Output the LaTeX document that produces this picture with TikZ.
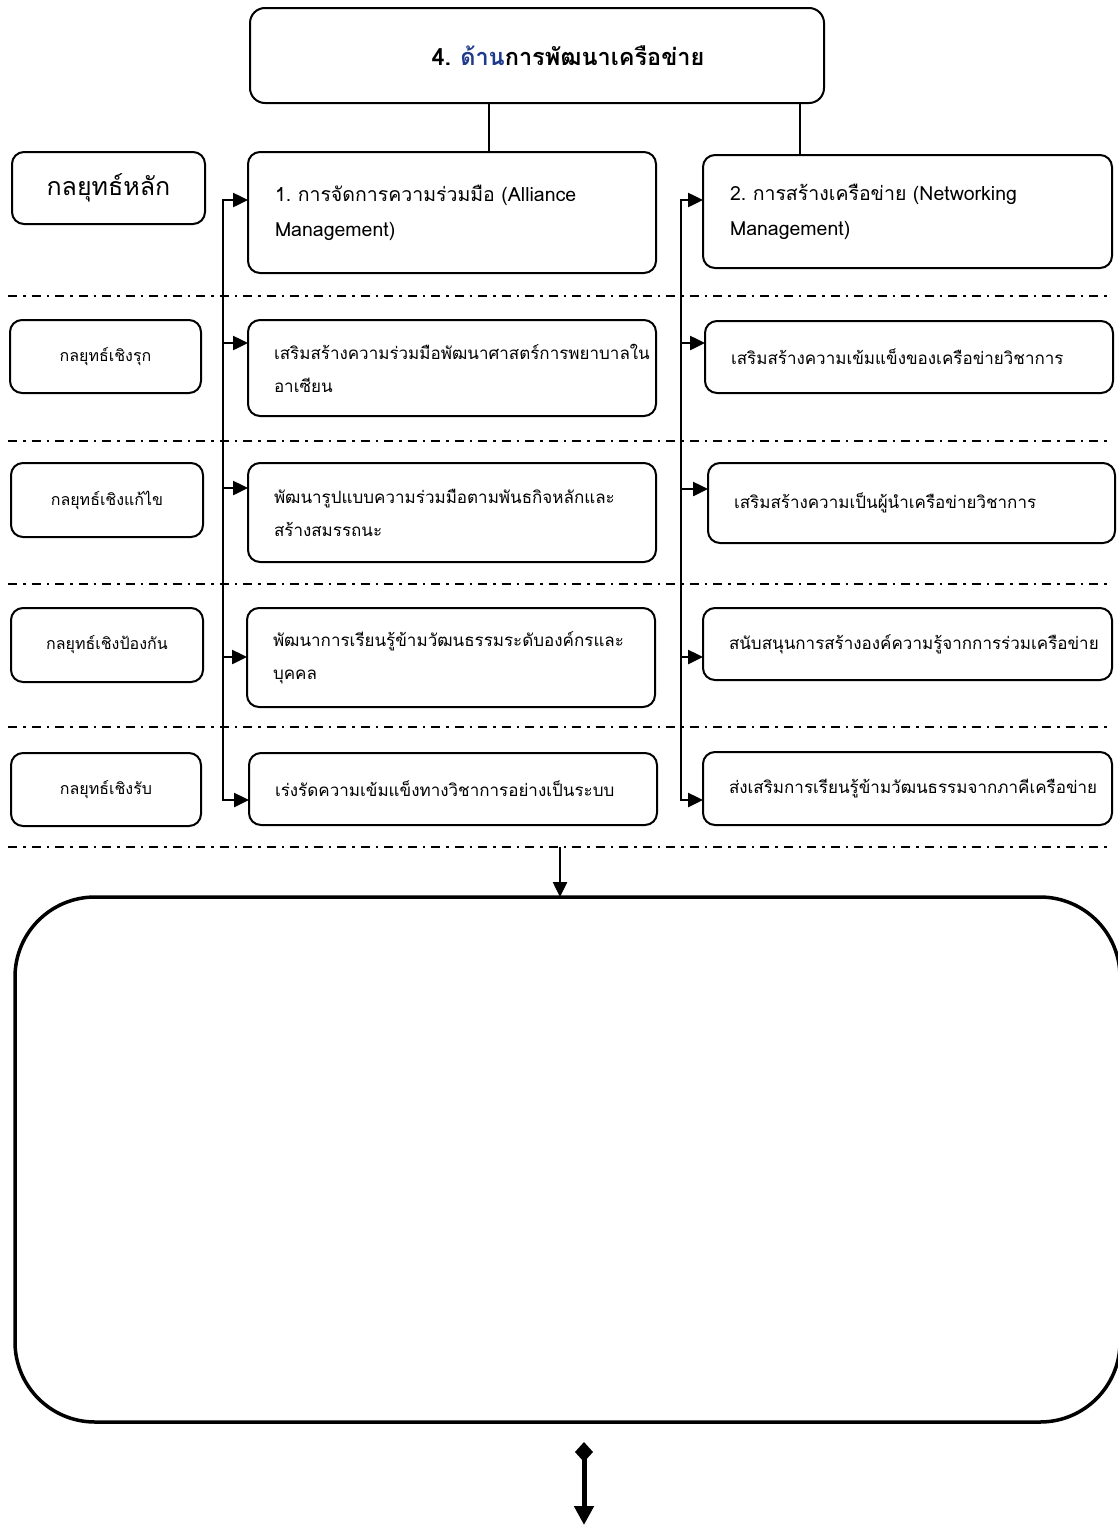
\documentclass[tikz,border=0pt]{standalone}
\usepackage{fontspec}
\newfontfamily\thaifont[Script=Thai]{Loma}
\usetikzlibrary{arrows.meta}
\definecolor{titleblue}{HTML}{1F3A8C}
\frenchspacing

\begin{document}
\begin{tikzpicture}[x=1pt,y=-1pt,
  every node/.style={font=\thaifont},
  frame/.style={draw=black, line width=2pt, rounded corners=12pt,
    anchor=north west, inner sep=0pt, outer sep=0pt},
  tag/.style={frame, align=center, font=\thaifont\fontsize{16}{20}\selectfont},
  item/.style={frame, align=left, font=\thaifont\fontsize{17}{33}\selectfont},
  head/.style={frame, align=left, font=\thaifont\fontsize{19.5}{35}\selectfont},
  link/.style={line width=2.5pt},
  feed/.style={line width=2.5pt, -{Triangle[length=15pt,width=14pt]}},
  sep/.style={line width=1.5pt, dash pattern=on 9pt off 6pt on 2.5pt off 6pt}
]
\useasboundingbox (0,0) rectangle (1117,1526);

% title
\node[frame, rounded corners=15pt, minimum width=574pt, minimum height=95pt,
  font=\thaifont\bfseries\fontsize{23.5}{28}\selectfont] (title) at (250,8)
  {\hspace*{62pt}4.\hspace{9pt}\textcolor{titleblue}{ด้าน}การพัฒนาเครือข่าย};

% main strategies
\node[frame, align=center, minimum width=193pt, minimum height=72pt,
  font=\thaifont\fontsize{25}{30}\selectfont] (key) at (12,152) {กลยุทธ์หลัก};
\node[head, minimum width=408pt, minimum height=121pt, text width=354pt] (b1) at (248,152)
  {1. การจัดการความร่วมมือ (Alliance\\Management)};
\node[head, minimum width=409pt, minimum height=113pt, text width=355pt] (b2) at (703,155)
  {2. การสร้างเครือข่าย (Networking\\Management)};

% row 1
\node[tag, minimum width=191pt, minimum height=73pt] (l1) at (10,320) {กลยุทธ์เชิงรุก};
\node[item, minimum width=408pt, minimum height=96pt, text width=356pt] (m1) at (248,320)
  {เสริมสร้างความร่วมมือพัฒนาศาสตร์การพยาบาลใน\\อาเซียน};
\node[item, minimum width=408pt, minimum height=72pt, text width=356pt] (r1) at (705,321)
  {เสริมสร้างความเข้มแข็งของเครือข่ายวิชาการ};

% row 2
\node[tag, minimum width=192pt, minimum height=74pt] (l2) at (11,463) {กลยุทธ์เชิงแก้ไข};
\node[item, minimum width=408pt, minimum height=99pt, text width=356pt] (m2) at (248,463)
  {พัฒนารูปแบบความร่วมมือตามพันธกิจหลักและ\\สร้างสมรรถนะ};
\node[item, minimum width=407pt, minimum height=80pt, text width=355pt] (r2) at (708,463)
  {เสริมสร้างความเป็นผู้นำเครือข่ายวิชาการ};

% row 3
\node[tag, minimum width=192pt, minimum height=74pt] (l3) at (11,608) {กลยุทธ์เชิงป้องกัน};
\node[item, minimum width=408pt, minimum height=99pt, text width=356pt] (m3) at (247,608)
  {พัฒนาการเรียนรู้ข้ามวัฒนธรรมระดับองค์กรและ\\บุคคล};
\node[item, minimum width=409pt, minimum height=72pt, text width=357pt] (r3) at (703,608)
  {สนับสนุนการสร้างองค์ความรู้จากการร่วมเครือข่าย};

% row 4
\node[tag, minimum width=190pt, minimum height=73pt] (l4) at (11,753) {กลยุทธ์เชิงรับ};
\node[item, minimum width=408pt, minimum height=72pt, text width=356pt] (m4) at (249,753)
  {เร่งรัดความเข้มแข็งทางวิชาการอย่างเป็นระบบ};
\node[item, minimum width=409pt, minimum height=73pt, text width=357pt] (r4) at (703,752)
  {ส่งเสริมการเรียนรู้ข้ามวัฒนธรรมจากภาคีเครือข่าย};

% result area
\node[draw=black, line width=3.5pt, rounded corners=80pt, anchor=north west,
  inner sep=0pt, outer sep=0pt, minimum width=1105pt, minimum height=525pt]
  (result) at (15,897) {};

% row separators
\foreach \y in {296,441,584,727,847}
  \draw[sep] (8,\y) -- (1112,\y);

% title to main strategies
\draw[link] (title.south -| 489,0) -- (b1.north -| 489,0);
\draw[link] (title.south -| 800,0) -- (b2.north -| 800,0);

% left trunk
\coordinate (L0) at (223,200);
\coordinate (L1) at (223,343);
\coordinate (L2) at (223,488);
\coordinate (L3) at (223,657);
\coordinate (L4) at (223,800);
\draw[link, {Triangle[length=15pt,width=14pt]}-{Triangle[length=15pt,width=14pt]}]
  (L0 -| b1.west) -- (L0) -- (L4) -- (L4 -| m4.west);
\draw[feed] (L1) -- (L1 -| m1.west);
\draw[feed] (L2) -- (L2 -| m2.west);
\draw[feed] (L3) -- (L3 -| m3.west);

% right trunk
\coordinate (R0) at (681,200);
\coordinate (R1) at (681,343);
\coordinate (R2) at (681,489);
\coordinate (R3) at (681,657);
\coordinate (R4) at (681,800);
\draw[link, {Triangle[length=15pt,width=14pt]}-{Triangle[length=15pt,width=14pt]}]
  (R0 -| b2.west) -- (R0) -- (R4) -- (R4 -| r4.west);
\draw[feed] (R1) -- (R1 -| r1.west);
\draw[feed] (R2) -- (R2 -| r2.west);
\draw[feed] (R3) -- (R3 -| r3.west);

% into the result area
\coordinate (D) at (560,847);
\draw[feed] (D) -- (D |- result.north);

% outgoing arrow below
\coordinate (E1) at (584,1442);
\coordinate (E2) at (584,1525);
\draw[line width=5pt, {Diamond[length=20pt,width=18pt]}-{Triangle[length=19pt,width=19pt]}]
  (E1) -- (E2);
\end{tikzpicture}
\end{document}
